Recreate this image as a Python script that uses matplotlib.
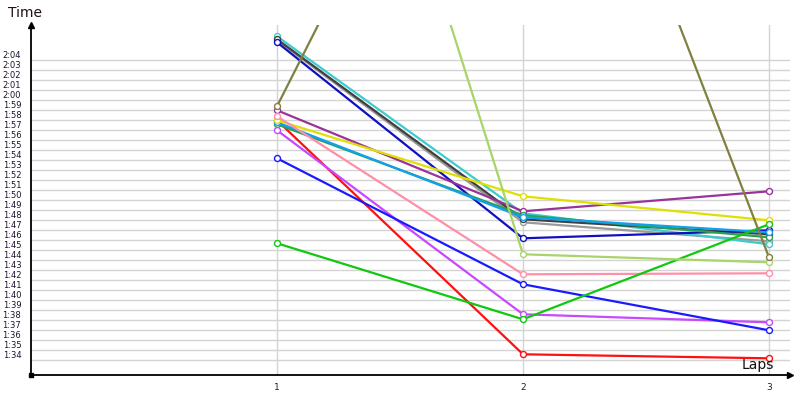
import matplotlib
matplotlib.use("Agg")
import matplotlib.pyplot as plt

# ---- data (lap times in seconds) ----
laps = [1, 2, 3]
lap_labels = ["1", "2", "3"]
tick_seconds = list(range(94, 125))          # 1:34 .. 2:04
tick_labels = [f"{s // 60}:{s % 60:02d}" for s in tick_seconds]

yellowgreen_times = [182.6, 104.6, 103.8]
cyan_times = [126.4, 108.7, 105.6]
gray_times = [126.0, 107.8, 105.9]
black_times = [126.1, 108.1, 106.6]
navy_times = [125.8, 106.2, 107.0]
purple_times = [119.0, 108.9, 110.9]
pink_times = [118.4, 102.6, 102.7]
dodger_times = [117.8, 108.3, 106.8]
darkgreen_times = [117.6, 108.5, 106.3]
yellow_times = [118.0, 110.4, 108.0]
red_times = [118.0, 94.6, 94.2]
magenta_times = [117.0, 98.6, 97.8]
blue_times = [114.2, 101.6, 97.0]
green_times = [105.7, 98.1, 107.6]
olive_times = [119.4, 168.0, 104.3]

series = [
    (red_times, "#ff1010"),
    (gray_times, "#9a9a9a"),
    (cyan_times, "#3cccd0"),
    (black_times, "#404040"),
    (navy_times, "#1010c0"),
    (purple_times, "#993399"),
    (darkgreen_times, "#2ca050"),
    (dodger_times, "#10a0f0"),
    (yellow_times, "#e0e000"),
    (pink_times, "#ff8fa8"),
    (magenta_times, "#c848ff"),
    (blue_times, "#1a1aff"),
    (green_times, "#10c810"),
    (yellowgreen_times, "#a8d468"),
    (olive_times, "#808040"),
]

W, H = 800, 400
fig = plt.figure(figsize=(8, 4), dpi=100)
left, right, bottom, top = 31, 790, 375, 25
ax = fig.add_axes([left / W, 1 - bottom / H, (right - left) / W, (bottom - top) / H])

# pixel mapping: lap 0 at x=31, 246 px per lap; 10 px per second, 1:34 at y=360.3
ax.set_xlim(0, (right - left) / 246)
ax.set_ylim(94 - (bottom - 360.3) / 10, 94 + (360.3 - top) / 10)

for s in tick_seconds:
    ax.axhline(s, color="#d4d4d4", lw=1.0, zorder=0)
for l in laps:
    ax.axvline(l, color="#d4d4d4", lw=1.0, zorder=0)

for vals, col in series:
    ax.plot(laps, vals, color=col, lw=1.6, marker="o", markersize=4.3,
            markerfacecolor="white", markeredgecolor=col, markeredgewidth=1.0,
            zorder=3)

ax.set_yticks(tick_seconds)
ax.set_yticklabels(tick_labels, fontsize=6, color="#201030")
for lab in ax.get_yticklabels():
    lab.set_va("bottom")
ax.set_xticks(laps)
ax.set_xticklabels(lap_labels, fontsize=6.5, color="#202020")
ax.tick_params(axis="y", length=0, pad=7)
ax.tick_params(axis="x", length=0, pad=6)

for sp in ["top", "right"]:
    ax.spines[sp].set_visible(False)
for sp in ["left", "bottom"]:
    ax.spines[sp].set_color("black")
    ax.spines[sp].set_linewidth(1.3)

# arrows and origin square
ax.plot([0], [1], marker="^", color="black", markersize=4.5, transform=ax.transAxes,
        clip_on=False, zorder=5)
ax.plot([1], [0], marker=">", color="black", markersize=4.5, transform=ax.transAxes,
        clip_on=False, zorder=5)
ax.plot([0], [0], marker="s", color="black", markersize=2.5, transform=ax.transAxes,
        clip_on=False, zorder=5)

fig.text(8 / W, 1 - 13 / H, "Time", fontsize=10, color="#201010", va="center", ha="left")
fig.text(742 / W, 1 - 365 / H, "Laps", fontsize=10, color="#101010", va="center", ha="left",
         zorder=10)

fig.savefig("out.png", dpi=100)
